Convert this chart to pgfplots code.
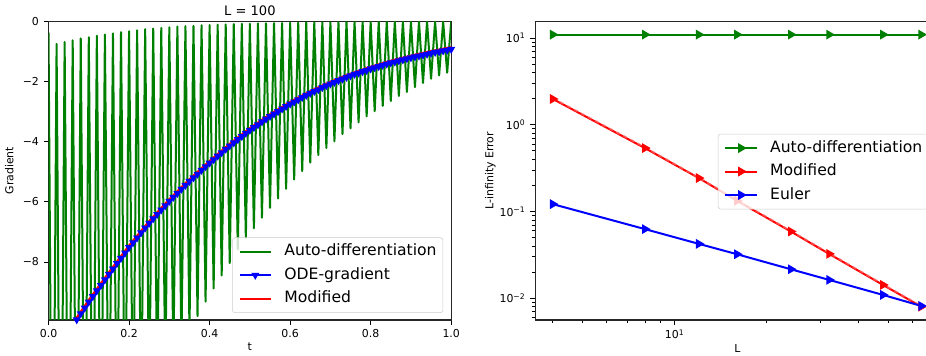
\documentclass[border=0pt]{standalone}
\usepackage{fontspec}
\setmainfont{DejaVu Sans}
\usepackage{pgfplots}
\pgfplotsset{compat=1.18}
\definecolor{mplgreen}{rgb}{0,0.5,0}

\begin{document}
\begin{tikzpicture}
\pgfplotsset{
  every axis/.append style={
    scale only axis,
    tick align=outside,
    tick pos=left,
    major tick length=3.7pt,
    minor tick length=2.1pt,
    every tick/.style={black, line width=0.6pt},
    axis line style={line width=0.8pt, black!85},
    tick label style={font=\fontsize{8.2}{9.8}\selectfont},
    label style={font=\fontsize{8.2}{9.8}\selectfont},
    xlabel style={yshift=3pt},
    title style={font=\fontsize{9.8}{11.8}\selectfont, yshift=-5pt},
    legend style={font=\fontsize{11.7}{14}\selectfont, draw=black!20, rounded corners=2pt, fill=white, fill opacity=0.8, text opacity=1, draw opacity=1, inner sep=4.7pt, row sep=5.9pt, column sep=9.4pt, nodes={inner sep=0pt, text height=8.9pt, text depth=2.8pt}},
    legend cell align=left,
    legend image code/.code={\draw[mark repeat=2,mark phase=2,#1] plot coordinates {(0pt,0pt) (11.7pt,0pt) (23.4pt,0pt)};},
  }
}
\begin{axis}[
  name=left, at={(0,0)}, anchor=south west,
  width=302pt, height=224pt,
  xmin=0, xmax=1, ymin=-9.93, ymax=0,
  xtick={0,0.2,0.4,0.6,0.8,1}, xticklabels={0.0,0.2,0.4,0.6,0.8,1.0},
  ytick={-8,-6,-4,-2,0}, yticklabels={−8,−6,−4,−2,0},
  xlabel={t}, ylabel={Gradient},
  title={L = 100},
  legend style={at={(0.98,0.0235)}, anchor=south east},
]
\addplot[mplgreen, line width=1.5pt, line join=round] table {
0.00 -0.38
0.01 -19.97
0.02 -0.75
0.03 -19.32
0.04 -0.69
0.05 -18.68
0.06 -0.63
0.07 -18.05
0.08 -0.57
0.09 -17.43
0.10 -0.53
0.11 -16.82
0.12 -0.48
0.13 -16.22
0.14 -0.44
0.15 -15.63
0.16 -0.40
0.17 -15.05
0.18 -0.36
0.19 -14.48
0.20 -0.33
0.21 -13.92
0.22 -0.30
0.23 -13.37
0.24 -0.26
0.25 -12.83
0.26 -0.24
0.27 -12.30
0.28 -0.22
0.29 -11.78
0.30 -0.20
0.31 -11.27
0.32 -0.17
0.33 -10.77
0.34 -0.16
0.35 -10.28
0.36 -0.15
0.37 -9.80
0.38 -0.13
0.39 -9.32
0.40 -0.12
0.41 -8.88
0.42 -0.11
0.43 -8.45
0.44 -0.10
0.45 -8.04
0.46 -0.09
0.47 -7.58
0.48 -0.08
0.49 -7.20
0.50 -0.08
0.51 -6.88
0.52 -0.07
0.53 -6.53
0.54 -0.065
0.55 -6.20
0.56 -0.06
0.57 -5.89
0.58 -0.055
0.59 -5.57
0.60 -0.05
0.61 -5.26
0.62 -0.045
0.63 -4.98
0.64 -0.04
0.65 -4.70
0.66 -0.037
0.67 -4.45
0.68 -0.034
0.69 -4.21
0.70 -0.031
0.71 -3.99
0.72 -0.028
0.73 -3.75
0.74 -0.025
0.75 -3.56
0.76 -0.023
0.77 -3.36
0.78 -0.021
0.79 -3.16
0.80 -0.019
0.81 -2.99
0.82 -0.017
0.83 -2.81
0.84 -0.015
0.85 -2.65
0.86 -0.013
0.87 -2.48
0.88 -0.012
0.89 -2.35
0.90 -0.011
0.91 -2.19
0.92 -0.010
0.93 -2.05
0.94 -0.009
0.95 -1.91
0.96 -0.008
0.97 -1.80
0.98 -0.007
0.99 -1.71
1.00 -0.006
};
\addlegendentry{Auto-differentiation}
\addplot[blue, line width=1.5pt, mark=triangle*, mark size=2pt, mark options={rotate=180}] table {
0.00 -11.35
0.01 -11.14
0.02 -10.93
0.03 -10.73
0.04 -10.52
0.05 -10.31
0.06 -10.11
0.07 -9.92
0.08 -9.72
0.09 -9.53
0.10 -9.33
0.11 -9.15
0.12 -8.96
0.13 -8.78
0.14 -8.59
0.15 -8.41
0.16 -8.23
0.17 -8.05
0.18 -7.88
0.19 -7.70
0.20 -7.52
0.21 -7.36
0.22 -7.20
0.23 -7.03
0.24 -6.87
0.25 -6.71
0.26 -6.56
0.27 -6.42
0.28 -6.27
0.29 -6.13
0.30 -5.98
0.31 -5.85
0.32 -5.72
0.33 -5.58
0.34 -5.45
0.35 -5.32
0.36 -5.20
0.37 -5.08
0.38 -4.95
0.39 -4.83
0.40 -4.71
0.41 -4.60
0.42 -4.48
0.43 -4.37
0.44 -4.25
0.45 -4.14
0.46 -4.04
0.47 -3.93
0.48 -3.83
0.49 -3.72
0.50 -3.62
0.51 -3.53
0.52 -3.44
0.53 -3.34
0.54 -3.25
0.55 -3.16
0.56 -3.08
0.57 -3.00
0.58 -2.91
0.59 -2.83
0.60 -2.75
0.61 -2.68
0.62 -2.61
0.63 -2.53
0.64 -2.46
0.65 -2.39
0.66 -2.33
0.67 -2.27
0.68 -2.20
0.69 -2.14
0.70 -2.08
0.71 -2.03
0.72 -1.97
0.73 -1.92
0.74 -1.86
0.75 -1.81
0.76 -1.76
0.77 -1.72
0.78 -1.67
0.79 -1.63
0.80 -1.58
0.81 -1.54
0.82 -1.50
0.83 -1.46
0.84 -1.42
0.85 -1.38
0.86 -1.35
0.87 -1.31
0.88 -1.28
0.89 -1.24
0.90 -1.21
0.91 -1.18
0.92 -1.15
0.93 -1.12
0.94 -1.09
0.95 -1.06
0.96 -1.03
0.97 -1.01
0.98 -0.98
0.99 -0.96
1.00 -0.93
};
\addlegendentry{ODE-gradient}
\addplot[red, line width=1.5pt] table {
0.00 -11.28
0.05 -10.24
0.10 -9.26
0.15 -8.34
0.20 -7.45
0.25 -6.64
0.30 -5.91
0.35 -5.25
0.40 -4.64
0.45 -4.07
0.50 -3.55
0.55 -3.09
0.60 -2.68
0.65 -2.32
0.70 -2.01
0.75 -1.74
0.80 -1.51
0.85 -1.31
0.90 -1.14
0.95 -0.99
1.00 -0.86
};
\addlegendentry{Modified}
\end{axis}

\begin{axis}[
  name=right, at={(364.9pt,0)}, anchor=south west,
  width=303.4pt, height=224pt,
  xmode=log, ymode=log,
  xmin=3.5, xmax=73.5, ymin=0.005623, ymax=15.54,
  xtick={10}, xticklabels={10\textsuperscript{1}},
  minor xtick={4,5,6,7,8,9,20,30,40,50,60,70},
  ytick={0.01,0.1,1,10},
  yticklabels={10\textsuperscript{−2},10\textsuperscript{−1},10\textsuperscript{0},10\textsuperscript{1}},
  minor ytick={0.006,0.007,0.008,0.009,0.02,0.03,0.04,0.05,0.06,0.07,0.08,0.09,0.2,0.3,0.4,0.5,0.6,0.7,0.8,0.9,2,3,4,5,6,7,8,9},
  xlabel={L}, ylabel={L-infinity Error},
  ylabel style={yshift=-4pt},
  legend style={at={(0.452,0.497)}, anchor=west},
]
\addplot[mplgreen, line width=1.5pt, mark=triangle*, mark size=2.8pt, mark options={rotate=-90}] table {
4 10.92
8 10.92
12 10.92
16 10.92
24 10.92
32 10.92
48 10.92
64 10.92
};
\addlegendentry{Auto-differentiation}
\addplot[red, line width=1.5pt, mark=triangle*, mark size=2.8pt, mark options={rotate=-90}] table {
4 1.98
8 0.538
12 0.243
16 0.133
24 0.0588
32 0.0325
48 0.01426
64 0.00801
};
\addlegendentry{Modified}
\addplot[red!55, opacity=0.6, line width=1.5pt, dashed, forget plot] table {
4 2.02
8 0.55
12 0.245
16 0.136
24 0.0598
32 0.0331
48 0.01450
64 0.00815
};
\addplot[blue, line width=1.5pt, mark=triangle*, mark size=2.8pt, mark options={rotate=-90}] table {
4 0.1216
8 0.0627
12 0.0424
16 0.0322
24 0.0216
32 0.0163
48 0.01094
64 0.00817
};
\addlegendentry{Euler}
\end{axis}
\pgfresetboundingbox
\useasboundingbox (-36.4pt,-27pt) rectangle (658.1pt,240pt);
\end{tikzpicture}
\end{document}
